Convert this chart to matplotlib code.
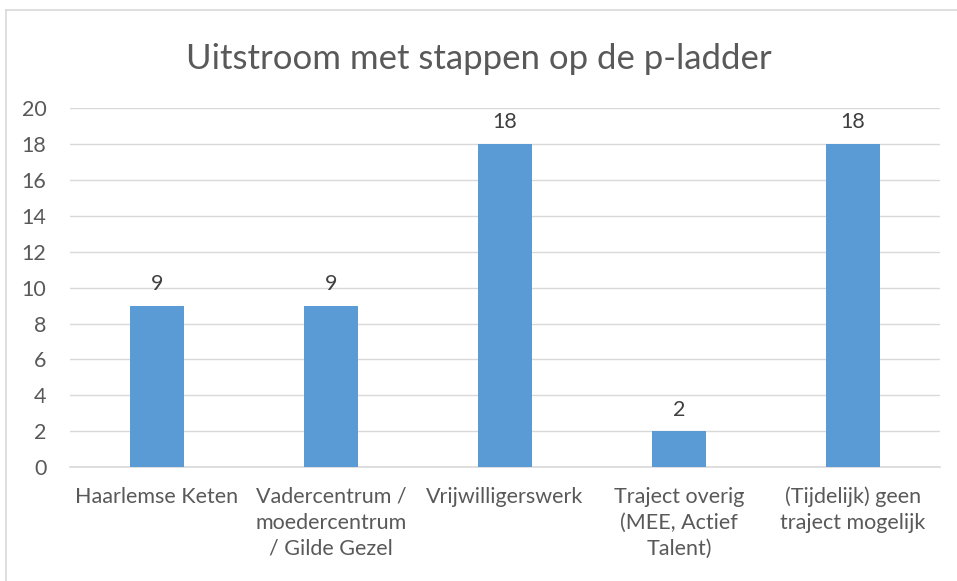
import matplotlib.pyplot as plt
from matplotlib.lines import Line2D

plt.rcParams['font.family'] = ['Lato', 'DejaVu Sans']

categories = ['Haarlemse Keten', 'Vadercentrum /\nmoedercentrum\n/ Gilde Gezel', 'Vrijwilligerswerk',
              'Traject overig\n(MEE, Actief\nTalent)', '(Tijdelijk) geen\ntraject mogelijk']
values = [9, 9, 18, 2, 18]
yticks = [0, 2, 4, 6, 8, 10, 12, 14, 16, 18, 20]

text_col = '#595959'
bar_col = '#5b9bd5'
grid_col = '#d9d9d9'

fig = plt.figure(figsize=(9.57, 5.81), dpi=100)
ax = fig.add_axes([0.0731, 0.196, 0.909, 0.618])

x = range(len(categories))
bars = ax.bar(x, values, width=0.31, color=bar_col, zorder=3)
for b, v in zip(bars, values):
    ax.text(b.get_x() + b.get_width() / 2, v + 0.65, str(v), ha='center', va='bottom',
            fontsize=15.5, color='#404040')

ax.set_xlim(-0.5, len(categories) - 0.5)
ax.set_ylim(0, 20)
ax.set_yticks(yticks)
ax.set_xticks(list(x))
ax.set_xticklabels(categories, fontsize=15.5, color=text_col, linespacing=1.38)
ax.tick_params(axis='y', labelsize=15.5, labelcolor=text_col, length=0, pad=17)
ax.tick_params(axis='x', length=0, pad=14)
ax.grid(axis='y', color=grid_col, linewidth=1, zorder=0)
for s in ['top', 'right', 'left']:
    ax.spines[s].set_visible(False)
ax.spines['bottom'].set_color(grid_col)
ax.spines['bottom'].set_linewidth(1.2)

fig.text(0.5, 0.898, 'Uitstroom met stappen op de p-ladder', ha='center', va='center',
         fontsize=25, color=text_col)

# outer chart border (only top and left edges visible in the crop)
fig.add_artist(Line2D([0.0063, 1.0], [0.983, 0.983], color=grid_col, linewidth=1.2))
fig.add_artist(Line2D([0.0063, 0.0063], [0.0, 0.983], color=grid_col, linewidth=1.2))

plt.savefig('out.png', dpi=100)
